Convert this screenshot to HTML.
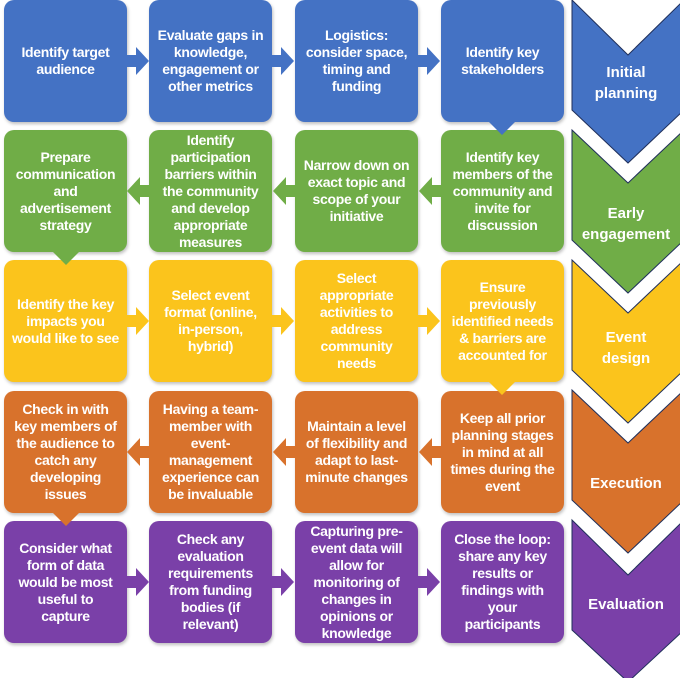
<!DOCTYPE html>
<html><head><meta charset="utf-8"><style>
html,body{margin:0;padding:0;background:#fff;width:680px;height:678px;overflow:hidden;position:relative}
.b{position:absolute;width:123px;height:122px;border-radius:10px;display:flex;align-items:center;justify-content:center;text-align:center;color:#fff;font:bold 14px/17px "Liberation Sans",sans-serif;box-shadow:1px 2px 3px rgba(0,0,0,.25);box-sizing:border-box;padding:0 8px;letter-spacing:-0.3px}
.bl{background:#4472C4}.gr{background:#70AD47}.ye{background:#FBC41C}.or{background:#D8722C}.pu{background:#7A40A8}
.lab{position:absolute;left:572px;width:108px;text-align:center;color:#fff;font:bold 15px/21px "Liberation Sans",sans-serif}
svg{position:absolute;left:0;top:0}
</style></head><body>
<svg width="680" height="678">
<g stroke="#1F2F5A" stroke-width="1">
<polygon points="572,0 628,55 684,0 684,110 628,163 572,110" fill="#4472C4"/>
<polygon points="572,130 628,183 684,130 684,240 628,293 572,240" fill="#70AD47"/>
<polygon points="572,260 628,313 684,260 684,370 628,423 572,370" fill="#FBC41C"/>
<polygon points="572,390 628,443 684,390 684,500 628,553 572,500" fill="#D8722C"/>
<polygon points="572,520 628,575 684,520 684,630 628,682 572,630" fill="#7A40A8"/>
</g>
</svg>
<div class="b bl" style="left:4px;top:0">Identify target audience</div>
<div class="b bl" style="left:149px;top:0">Evaluate gaps in knowledge, engagement or other metrics</div>
<div class="b bl" style="left:295px;top:0">Logistics: consider space, timing and funding</div>
<div class="b bl" style="left:441px;top:0">Identify key stakeholders</div>
<div class="b gr" style="left:4px;top:130px">Prepare communication and advertisement strategy</div>
<div class="b gr" style="left:149px;top:130px">Identify participation barriers within the community and develop appropriate measures</div>
<div class="b gr" style="left:295px;top:130px">Narrow down on exact topic and scope of your initiative</div>
<div class="b gr" style="left:441px;top:130px">Identify key members of the community and invite for discussion</div>
<div class="b ye" style="left:4px;top:260px">Identify the key impacts you would like to see</div>
<div class="b ye" style="left:149px;top:260px">Select event format (online, in-person, hybrid)</div>
<div class="b ye" style="left:295px;top:260px">Select appropriate activities to address community needs</div>
<div class="b ye" style="left:441px;top:260px">Ensure previously identified needs &amp; barriers are accounted for</div>
<div class="b or" style="left:4px;top:391px">Check in with key members of the audience to catch any developing issues</div>
<div class="b or" style="left:149px;top:391px">Having a team-member with event-management experience can be invaluable</div>
<div class="b or" style="left:295px;top:391px">Maintain a level of flexibility and adapt to last-minute changes</div>
<div class="b or" style="left:441px;top:391px">Keep all prior planning stages in mind at all times during the event</div>
<div class="b pu" style="left:4px;top:521px">Consider what form of data would be most useful to capture</div>
<div class="b pu" style="left:149px;top:521px">Check any evaluation requirements from funding bodies (if relevant)</div>
<div class="b pu" style="left:295px;top:521px">Capturing pre-event data will allow for monitoring of changes in opinions or knowledge</div>
<div class="b pu" style="left:441px;top:521px">Close the loop: share any key results or findings with your participants</div>
<svg width="680" height="678">
<defs>
<polygon id="ar" points="0,-6 9,-6 9,-14 22,0 9,14 9,6 0,6"/>
<polygon id="dn" points="-13,0 13,0 0,13"/>
</defs>
<g fill="#4472C4"><use href="#ar" x="127" y="61"/><use href="#ar" x="272" y="61"/><use href="#ar" x="418" y="61"/><use href="#dn" x="502" y="122"/></g>
<g fill="#70AD47"><use href="#ar" transform="translate(149,191) scale(-1,1)"/><use href="#ar" transform="translate(295,191) scale(-1,1)"/><use href="#ar" transform="translate(441,191) scale(-1,1)"/><use href="#dn" x="66" y="252"/></g>
<g fill="#FBC41C"><use href="#ar" x="127" y="321"/><use href="#ar" x="272" y="321"/><use href="#ar" x="418" y="321"/><use href="#dn" x="502" y="382"/></g>
<g fill="#D8722C"><use href="#ar" transform="translate(149,452) scale(-1,1)"/><use href="#ar" transform="translate(295,452) scale(-1,1)"/><use href="#ar" transform="translate(441,452) scale(-1,1)"/><use href="#dn" x="66" y="513"/></g>
<g fill="#7A40A8"><use href="#ar" x="127" y="582"/><use href="#ar" x="272" y="582"/><use href="#ar" x="418" y="582"/></g>
</svg>
<div class="lab" style="top:62px">Initial<br>planning</div>
<div class="lab" style="top:203px">Early<br>engagement</div>
<div class="lab" style="top:327px">Event<br>design</div>
<div class="lab" style="top:473px">Execution</div>
<div class="lab" style="top:594px">Evaluation</div>
</body></html>
